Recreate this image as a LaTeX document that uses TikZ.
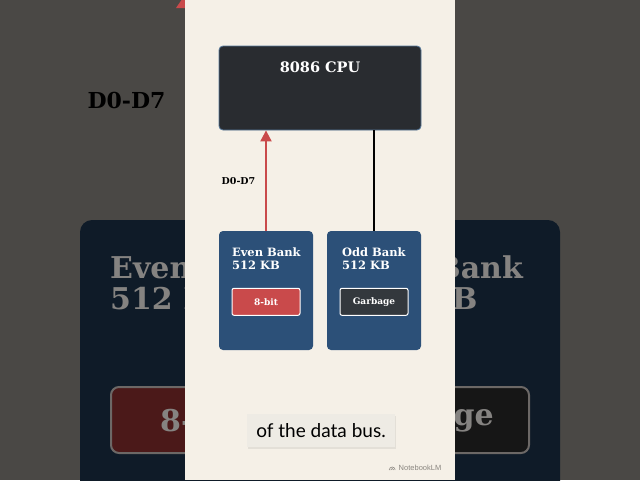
\documentclass[tikz,border=0pt]{standalone}
\usepackage{fontspec}
\setmainfont{DejaVu Serif}
\setsansfont{Liberation Sans}
\newfontfamily\capfont{Lato}
\usetikzlibrary{positioning}
\usetikzlibrary{arrows.meta}
\usetikzlibrary{shadows}

\definecolor{backgray}{HTML}{4A4845}
\definecolor{backnavy}{HTML}{0F1B28}
\definecolor{backtext}{HTML}{858381}
\definecolor{backred}{HTML}{4B1919}
\definecolor{backdark}{HTML}{161616}
\definecolor{backrim}{HTML}{6C6866}
\definecolor{paper}{HTML}{F5F0E7}
\definecolor{cpufill}{HTML}{292C30}
\definecolor{cpurim}{HTML}{56789A}
\definecolor{bankblue}{HTML}{2C5078}
\definecolor{busred}{HTML}{C94A4B}
\definecolor{tagdark}{HTML}{33383D}
\definecolor{capfill}{HTML}{EEEBE4}
\definecolor{markgray}{HTML}{8A8680}

\begin{document}
\begin{tikzpicture}[x=1pt, y=-1pt,
  cpubox/.style={draw=cpurim, line width=0.8pt, fill=cpufill, rounded corners=4pt,
    minimum width=202pt, minimum height=84pt, inner sep=0pt},
  bank/.style={fill=bankblue, rounded corners=4pt,
    minimum width=94pt, minimum height=119pt, inner sep=0pt},
  bankname/.style={text=white, align=left, inner sep=0pt,
    font=\bfseries\fontsize{11.5}{13}\selectfont},
  tag/.style={draw=white, line width=1pt, rounded corners=2pt, text=white,
    minimum width=68pt, minimum height=27pt, inner sep=0pt,
    font=\bfseries\fontsize{9}{10}\selectfont},
  bustag/.style={font=\bfseries\fontsize{9.5}{10}\selectfont},
  backbox/.style={draw=backrim, line width=2pt, rounded corners=8pt,
    minimum height=66pt, inner sep=0pt},
  backname/.style={text=backtext, align=left, inner sep=0pt,
    font=\bfseries\fontsize{30}{31}\selectfont}]

  \useasboundingbox (0,0) rectangle (640,480);
  \clip (0,0) rectangle (640,480);

  % blurred backdrop
  \fill[backgray] (0,0) rectangle (640,480);
  \fill[busred] (176,8) -- (187,-8) -- (198,8) -- cycle;
  \node[font=\bfseries\fontsize{22}{24}\selectfont] (backbus) at (126.5,100) {D0-D7};
  \fill[backnavy, rounded corners=12pt] (80,220) rectangle (560,500);
  \node[backname, anchor=north west] (backeven) at (110,256) {Even\\512 K};
  \node[backname, anchor=north east] (backodd) at (523,256) {Bank};
  \node[backname, anchor=north west] (backkb) at (452,287) {B};
  \node[backbox, fill=backred, minimum width=169pt] (backbits) at (195.5,420) {};
  \node[backbox, fill=backdark, minimum width=202pt] (backjunk) at (428,420) {};
  \node[backname, anchor=west] (backbitstxt) at (160,421) {8-};
  \node[backname, anchor=east] (backjunktxt) at (494,421) {age};

  % panel
  \fill[paper] (185,0) rectangle (455,480);

  \node[cpubox, label={[anchor=north, yshift=-13pt, text=white,
    font=\bfseries\fontsize{14.5}{16}\selectfont]north:8086 CPU}] (cpu) at (320,88) {};

  \node[bank] (even) at (266,290.5) {};
  \node[bank] (odd) at (374,290.5) {};
  \node[bankname, anchor=north west] (evenname) at ([xshift=13pt, yshift=-17pt]even.north west) {Even Bank\\512 KB};
  \node[bankname, anchor=north west] (oddname) at ([xshift=15pt, yshift=-17pt]odd.north west) {Odd Bank\\512 KB};
  \node[tag, fill=busred, below=57pt of even.north] (evenbits) {8-bit};
  \node[tag, fill=tagdark, below=57pt of odd.north] (oddbits) {Garbage};

  \draw[busred, line width=2pt, -{Triangle[width=11pt, length=11pt]}] (even.north) -- (even.north |- cpu.south);
  \draw[black, line width=1.6pt] (cpu.south -| odd.north) -- (odd.north);
  \node[bustag] (buslbl) at (238.5,181) {D0-D7};

  \node[fill=capfill, drop shadow={opacity=0.15, shadow xshift=1pt, shadow yshift=-1.5pt},
    minimum width=148pt, minimum height=33pt, inner sep=0pt,
    font=\capfont\fontsize{19}{20}\selectfont] (cap) at (321,430.5) {of the data bus.};

  \node[text=markgray, font=\sffamily\fontsize{7.5}{8}\selectfont] (mark) at (420,467.5) {NotebookLM};
  \draw[markgray, line width=0.6pt] ([xshift=-6pt, yshift=-2.5pt]mark.west) arc (180:0:3pt);
  \draw[markgray, line width=0.6pt] ([xshift=-4.5pt, yshift=-2.5pt]mark.west) arc (180:0:1.5pt);
\end{tikzpicture}
\end{document}
